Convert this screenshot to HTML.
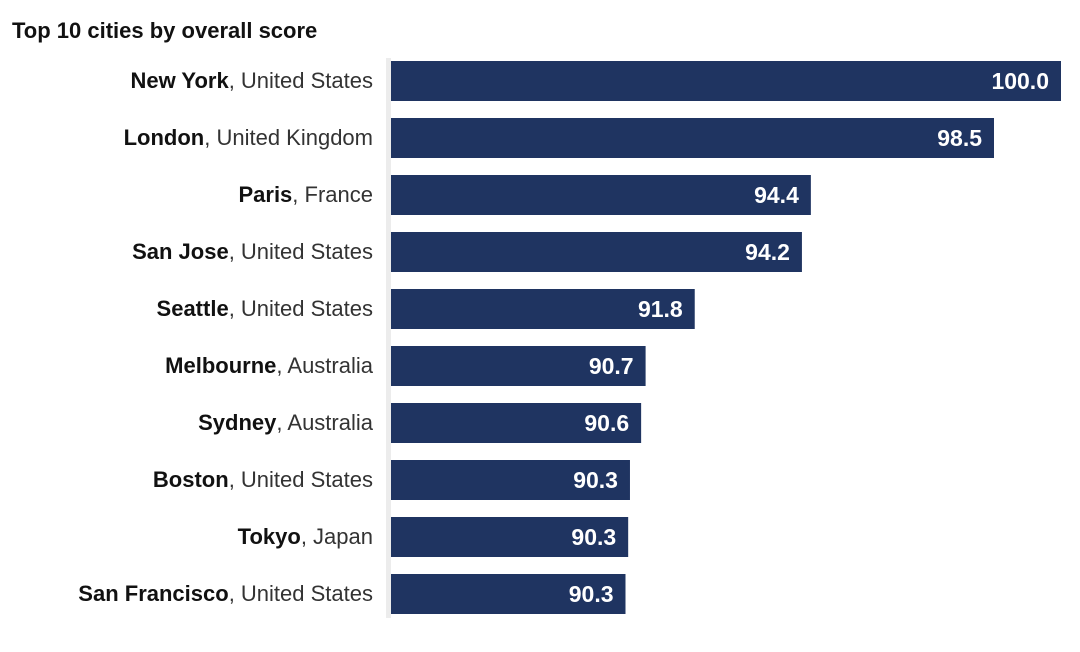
<!DOCTYPE html>
<html><head><meta charset="utf-8"><style>
body{margin:0;background:#fff;width:1080px;height:647px;overflow:hidden;font-family:"Liberation Sans",sans-serif;}
</style></head><body>
<svg id="chart" width="1080" height="647" xmlns="http://www.w3.org/2000/svg">
<text x="12" y="38" font-size="22" font-weight="bold" fill="#111">Top 10 cities by overall score</text>
<rect x="386" y="58" width="5" height="560" fill="#ececec"/>
<g id="rows"></g>
</svg>
<script>
const cities=["New York","London","Paris","San Jose","Seattle","Melbourne","Sydney","Boston","Tokyo","San Francisco"];
const countries=["United States","United Kingdom","France","United States","United States","Australia","Australia","United States","Japan","United States"];
const scores=[100.0,98.5,94.4,94.2,91.8,90.7,90.6,90.35,90.31,90.25];
const labels=["100.0","98.5","94.4","94.2","91.8","90.7","90.6","90.3","90.3","90.3"];
const x0=391,xMin=85,xMax=100,w=670;
function xs(v){return (v-xMin)/(xMax-xMin)*w;}
function ys(i){return 61+i*57;}
const g=document.getElementById('rows');const NS="http://www.w3.org/2000/svg";
cities.forEach((c,i)=>{
 const r=document.createElementNS(NS,'rect');
 
 
 r.setAttribute('x',x0);r.setAttribute('y',ys(i));r.setAttribute('width',xs(scores[i]));r.setAttribute('height',40);r.setAttribute('fill','#1f3461');
 g.appendChild(r);
 const t=document.createElementNS(NS,'text');
 
 
 t.setAttribute('x',x0+xs(scores[i])-12);t.setAttribute('y',ys(i)+28);t.setAttribute('text-anchor','end');
 t.setAttribute('font-size','23');t.setAttribute('font-weight','bold');t.setAttribute('fill','#fff');
 t.textContent=labels[i];g.appendChild(t);
 const l=document.createElementNS(NS,'text');
 
 
 l.setAttribute('x',373);l.setAttribute('y',ys(i)+27);l.setAttribute('text-anchor','end');l.setAttribute('font-size','22');l.setAttribute('fill','#222');
 const b=document.createElementNS(NS,'tspan');b.setAttribute('font-weight','bold');b.setAttribute('fill','#111');b.textContent=c;
 const s=document.createElementNS(NS,'tspan');s.setAttribute('fill','#333');s.textContent=', '+countries[i];
 l.appendChild(b);l.appendChild(s);g.appendChild(l);
});
</script>
</body></html>
